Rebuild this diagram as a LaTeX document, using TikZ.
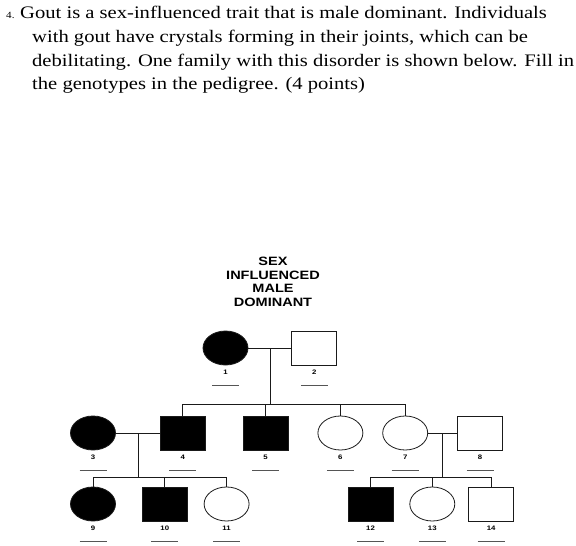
\documentclass[tikz,border=0pt]{standalone}
\usepackage{fontspec}
\setmainfont{Liberation Serif}[FakeStretch=1.17]
\newfontfamily\headsans{Liberation Sans}[FakeStretch=1.2]
\usepackage{xcolor}
\definecolor{ink}{HTML}{1A1A1A}
\definecolor{rule}{HTML}{555555}
\usepackage{tikz}
\usetikzlibrary{positioning, shapes.geometric, calc}

\begin{document}
\begin{tikzpicture}[
        x=1pt, y=1pt,
        male/.style={draw=ink, rectangle, line width=0.8pt, minimum width=45pt, minimum height=34pt, inner sep=0pt},
        female/.style={male, ellipse},
        hit/.style={fill=black},
        link/.style={draw=ink, line width=0.8pt},
        uline/.style={draw=rule, line width=0.8pt},
        tag/.style={font=\headsans\bfseries\fontsize{6.5}{7}\selectfont, inner sep=0pt, anchor=base},
        question/.style={font=\fontsize{17.6}{23.5}\selectfont, inner sep=0pt, anchor=base west}
    ]
        \useasboundingbox (0,0) rectangle (576,-546);

        % Question text
        \node[anchor=base west, inner sep=0pt, font=\fontsize{9.5}{11}\selectfont] (qnum) at (6,-18.5) {4.};
        \node[question] (q1) at (20,-18.5) {Gout is a sex-influenced trait that is male dominant. Individuals};
        \node[question] (q2) at (32,-42.5) {with gout have crystals forming in their joints, which can be};
        \node[question] (q3) at (32,-66) {debilitating. One family with this disorder is shown below. Fill in};
        \node[question] (q4) at (32,-89.5) {the genotypes in the pedigree. (4 points)};

        % Heading
        \node[font=\headsans\bfseries\fontsize{12.1}{13.5}\selectfont, align=center] (head) at (273,-282) {SEX\\INFLUENCED\\MALE\\DOMINANT};

        % Generation I
        \node[female, hit] (i1) at (225.5,-348) {};
        \node[male, right=43pt of i1] (i2) {};

        % Generation II
        \node[female, hit] (i3) at (93,-433) {};
        \node[male, hit, right=44pt of i3] (i4) {};
        \node[male, hit, right=37pt of i4] (i5) {};
        \node[female, right=29pt of i5] (i6) {};
        \node[female, right=19pt of i6] (i7) {};
        \node[male, right=29pt of i7] (i8) {};

        % Generation III
        \node[female, hit] (i9) at (93,-504) {};
        \node[male, hit, right=26pt of i9] (i10) {};
        \node[female, right=16pt of i10] (i11) {};
        \node[male, hit] (i12) at (370.5,-504) {};
        \node[female, right=16pt of i12] (i13) {};
        \node[male, right=13pt of i13] (i14) {};

        % Numbers and blanks
        \foreach \n in {1,...,14} {
            \node[tag] (t\n) at ([yshift=-9.3pt]i\n.south) {\n};
            \draw[uline] ([xshift=-13.5pt, yshift=-20pt]i\n.south) -- ++(27,0);
        }

        % Couples and sibships
        \coordinate (m12) at ($(i1.east)!.5!(i2.west)$);
        \coordinate (s12) at ($(m12)+(0,-56)$);
        \draw[link] (i1.east) -- (i2.west);
        \draw[link] (m12) -- (s12);
        \draw[link] (s12 -| i4) -- (s12 -| i7);
        \foreach \c in {4,5,6,7}
            \draw[link] (s12 -| i\c) -- (i\c.north);

        \coordinate (m34) at ($(i3.east)!.5!(i4.west)$);
        \coordinate (s34) at ($(m34)+(0,-44)$);
        \draw[link] (i3.east) -- (i4.west);
        \draw[link] (m34) -- (s34);
        \draw[link] (s34 -| i9) -- (s34 -| i11);
        \foreach \c in {9,10,11}
            \draw[link] (s34 -| i\c) -- (i\c.north);

        \coordinate (m78) at ($(i7.east)!.5!(i8.west)$);
        \coordinate (s78) at ($(m78)+(0,-44)$);
        \draw[link] (i7.east) -- (i8.west);
        \draw[link] (m78) -- (s78);
        \draw[link] (s78 -| i12) -- (s78 -| i14);
        \foreach \c in {12,13,14}
            \draw[link] (s78 -| i\c) -- (i\c.north);
    \end{tikzpicture}
\end{document}
